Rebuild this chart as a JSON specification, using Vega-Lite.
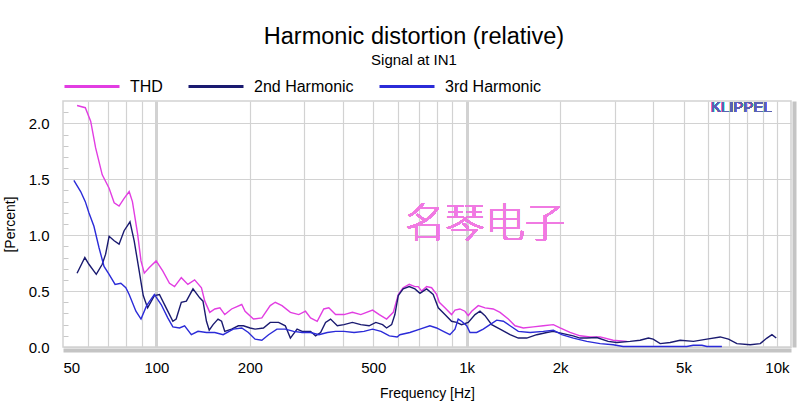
{
"$schema": "https://vega.github.io/schema/vega-lite/v6.json",
"width": 728, "height": 246,
"autosize": {"type": "none"},
"padding": {"left": 63, "top": 101, "right": 9, "bottom": 56},
"background": "white",
"config": {"font": "Liberation Sans", "view": {"stroke": "#d2d2d2", "strokeWidth": 1.5}},
"title": {"text": "Harmonic distortion (relative)", "subtitle": "Signal at IN1", "fontSize": 23.5, "fontWeight": "normal", "subtitleFontSize": 15, "color": "#000", "subtitleColor": "#000", "anchor": "middle", "frame": "group", "dx": -13, "offset": -10, "subtitlePadding": 4},
"data": {"values": [
{"s":"THD","f":55.5,"v":2.16},{"s":"THD","f":59,"v":2.14},{"s":"THD","f":61.4,"v":2.02},{"s":"THD","f":63.7,"v":1.78},{"s":"THD","f":66.9,"v":1.54},{"s":"THD","f":70.4,"v":1.42},{"s":"THD","f":73.1,"v":1.29},{"s":"THD","f":75.8,"v":1.26},{"s":"THD","f":78.7,"v":1.33},{"s":"THD","f":81.7,"v":1.39},{"s":"THD","f":83.7,"v":1.30},{"s":"THD","f":87,"v":1.01},{"s":"THD","f":89.2,"v":0.77},{"s":"THD","f":91.4,"v":0.66},{"s":"THD","f":94.9,"v":0.71},{"s":"THD","f":99.8,"v":0.77},{"s":"THD","f":104.8,"v":0.68},{"s":"THD","f":110.2,"v":0.57},{"s":"THD","f":114.4,"v":0.54},{"s":"THD","f":120.3,"v":0.62},{"s":"THD","f":126.3,"v":0.56},{"s":"THD","f":132.8,"v":0.60},{"s":"THD","f":139.7,"v":0.53},{"s":"THD","f":143.2,"v":0.41},{"s":"THD","f":148.6,"v":0.31},{"s":"THD","f":154.3,"v":0.34},{"s":"THD","f":160.2,"v":0.35},{"s":"THD","f":166.1,"v":0.29},{"s":"THD","f":174.7,"v":0.34},{"s":"THD","f":188.4,"v":0.38},{"s":"THD","f":193.1,"v":0.32},{"s":"THD","f":205.5,"v":0.25},{"s":"THD","f":218.7,"v":0.26},{"s":"THD","f":232.7,"v":0.37},{"s":"THD","f":241.6,"v":0.40},{"s":"THD","f":254,"v":0.37},{"s":"THD","f":270.3,"v":0.31},{"s":"THD","f":287.7,"v":0.29},{"s":"THD","f":302.3,"v":0.32},{"s":"THD","f":313.9,"v":0.26},{"s":"THD","f":329.8,"v":0.23},{"s":"THD","f":346.3,"v":0.34},{"s":"THD","f":359.5,"v":0.35},{"s":"THD","f":378,"v":0.29},{"s":"THD","f":402.3,"v":0.29},{"s":"THD","f":428.3,"v":0.31},{"s":"THD","f":455.7,"v":0.29},{"s":"THD","f":497.5,"v":0.33},{"s":"THD","f":522.8,"v":0.29},{"s":"THD","f":552,"v":0.25},{"s":"THD","f":580,"v":0.31},{"s":"THD","f":602,"v":0.47},{"s":"THD","f":624,"v":0.53},{"s":"THD","f":653,"v":0.56},{"s":"THD","f":681,"v":0.54},{"s":"THD","f":698,"v":0.54},{"s":"THD","f":716,"v":0.50},{"s":"THD","f":743,"v":0.54},{"s":"THD","f":771,"v":0.53},{"s":"THD","f":800,"v":0.47},{"s":"THD","f":816,"v":0.40},{"s":"THD","f":851,"v":0.35},{"s":"THD","f":894,"v":0.29},{"s":"THD","f":917,"v":0.33},{"s":"THD","f":951,"v":0.34},{"s":"THD","f":987,"v":0.32},{"s":"THD","f":1012,"v":0.28},{"s":"THD","f":1038,"v":0.32},{"s":"THD","f":1090,"v":0.37},{"s":"THD","f":1146,"v":0.35},{"s":"THD","f":1218,"v":0.34},{"s":"THD","f":1281,"v":0.31},{"s":"THD","f":1362,"v":0.25},{"s":"THD","f":1432,"v":0.19},{"s":"THD","f":1523,"v":0.17},{"s":"THD","f":1640,"v":0.18},{"s":"THD","f":1766,"v":0.19},{"s":"THD","f":1903,"v":0.20},{"s":"THD","f":2000,"v":0.17},{"s":"THD","f":2154,"v":0.13},{"s":"THD","f":2320,"v":0.10},{"s":"THD","f":2499,"v":0.09},{"s":"THD","f":2692,"v":0.09},{"s":"THD","f":2965,"v":0.06},{"s":"THD","f":3282,"v":0.05},
{"s":"2nd Harmonic","f":55.5,"v":0.66},{"s":"2nd Harmonic","f":58.8,"v":0.80},{"s":"2nd Harmonic","f":60.6,"v":0.74},{"s":"2nd Harmonic","f":64,"v":0.65},{"s":"2nd Harmonic","f":66.9,"v":0.74},{"s":"2nd Harmonic","f":68.6,"v":0.83},{"s":"2nd Harmonic","f":70.4,"v":0.99},{"s":"2nd Harmonic","f":73.1,"v":0.95},{"s":"2nd Harmonic","f":75.8,"v":0.92},{"s":"2nd Harmonic","f":78.7,"v":1.04},{"s":"2nd Harmonic","f":82.2,"v":1.12},{"s":"2nd Harmonic","f":84.8,"v":0.95},{"s":"2nd Harmonic","f":88,"v":0.68},{"s":"2nd Harmonic","f":89.8,"v":0.53},{"s":"2nd Harmonic","f":90.7,"v":0.46},{"s":"2nd Harmonic","f":93.7,"v":0.35},{"s":"2nd Harmonic","f":98.5,"v":0.46},{"s":"2nd Harmonic","f":102.3,"v":0.47},{"s":"2nd Harmonic","f":107.5,"v":0.35},{"s":"2nd Harmonic","f":113,"v":0.23},{"s":"2nd Harmonic","f":115.8,"v":0.25},{"s":"2nd Harmonic","f":120.3,"v":0.40},{"s":"2nd Harmonic","f":124.9,"v":0.41},{"s":"2nd Harmonic","f":131.2,"v":0.52},{"s":"2nd Harmonic","f":137.9,"v":0.44},{"s":"2nd Harmonic","f":141.3,"v":0.41},{"s":"2nd Harmonic","f":145,"v":0.23},{"s":"2nd Harmonic","f":148,"v":0.15},{"s":"2nd Harmonic","f":152.3,"v":0.20},{"s":"2nd Harmonic","f":158,"v":0.25},{"s":"2nd Harmonic","f":162.2,"v":0.23},{"s":"2nd Harmonic","f":166.1,"v":0.14},{"s":"2nd Harmonic","f":174.7,"v":0.16},{"s":"2nd Harmonic","f":183.7,"v":0.19},{"s":"2nd Harmonic","f":190.7,"v":0.19},{"s":"2nd Harmonic","f":200.4,"v":0.17},{"s":"2nd Harmonic","f":208,"v":0.16},{"s":"2nd Harmonic","f":221.3,"v":0.17},{"s":"2nd Harmonic","f":232.7,"v":0.22},{"s":"2nd Harmonic","f":247.6,"v":0.22},{"s":"2nd Harmonic","f":260.3,"v":0.19},{"s":"2nd Harmonic","f":270.3,"v":0.08},{"s":"2nd Harmonic","f":284.1,"v":0.16},{"s":"2nd Harmonic","f":294.9,"v":0.14},{"s":"2nd Harmonic","f":313.9,"v":0.14},{"s":"2nd Harmonic","f":325.8,"v":0.10},{"s":"2nd Harmonic","f":338.2,"v":0.13},{"s":"2nd Harmonic","f":350.9,"v":0.22},{"s":"2nd Harmonic","f":364.2,"v":0.25},{"s":"2nd Harmonic","f":382.9,"v":0.19},{"s":"2nd Harmonic","f":402.3,"v":0.20},{"s":"2nd Harmonic","f":428.3,"v":0.22},{"s":"2nd Harmonic","f":455.7,"v":0.20},{"s":"2nd Harmonic","f":484.8,"v":0.19},{"s":"2nd Harmonic","f":509.5,"v":0.22},{"s":"2nd Harmonic","f":535.8,"v":0.20},{"s":"2nd Harmonic","f":552,"v":0.17},{"s":"2nd Harmonic","f":573,"v":0.20},{"s":"2nd Harmonic","f":587,"v":0.29},{"s":"2nd Harmonic","f":602,"v":0.46},{"s":"2nd Harmonic","f":624,"v":0.52},{"s":"2nd Harmonic","f":653,"v":0.54},{"s":"2nd Harmonic","f":681,"v":0.52},{"s":"2nd Harmonic","f":707,"v":0.48},{"s":"2nd Harmonic","f":743,"v":0.52},{"s":"2nd Harmonic","f":780,"v":0.47},{"s":"2nd Harmonic","f":810,"v":0.35},{"s":"2nd Harmonic","f":851,"v":0.29},{"s":"2nd Harmonic","f":894,"v":0.23},{"s":"2nd Harmonic","f":928,"v":0.22},{"s":"2nd Harmonic","f":963,"v":0.20},{"s":"2nd Harmonic","f":1012,"v":0.22},{"s":"2nd Harmonic","f":1064,"v":0.29},{"s":"2nd Harmonic","f":1104,"v":0.32},{"s":"2nd Harmonic","f":1146,"v":0.28},{"s":"2nd Harmonic","f":1204,"v":0.20},{"s":"2nd Harmonic","f":1281,"v":0.16},{"s":"2nd Harmonic","f":1380,"v":0.11},{"s":"2nd Harmonic","f":1467,"v":0.08},{"s":"2nd Harmonic","f":1562,"v":0.08},{"s":"2nd Harmonic","f":1682,"v":0.11},{"s":"2nd Harmonic","f":1812,"v":0.13},{"s":"2nd Harmonic","f":1899,"v":0.14},{"s":"2nd Harmonic","f":2045,"v":0.12},{"s":"2nd Harmonic","f":2203,"v":0.10},{"s":"2nd Harmonic","f":2320,"v":0.08},{"s":"2nd Harmonic","f":2438,"v":0.08},{"s":"2nd Harmonic","f":2627,"v":0.085},{"s":"2nd Harmonic","f":2857,"v":0.05},{"s":"2nd Harmonic","f":3047,"v":0.04},{"s":"2nd Harmonic","f":3364,"v":0.05},{"s":"2nd Harmonic","f":3622,"v":0.06},{"s":"2nd Harmonic","f":3853,"v":0.08},{"s":"2nd Harmonic","f":3990,"v":0.07},{"s":"2nd Harmonic","f":4204,"v":0.03},{"s":"2nd Harmonic","f":4527,"v":0.04},{"s":"2nd Harmonic","f":4876,"v":0.06},{"s":"2nd Harmonic","f":5383,"v":0.05},{"s":"2nd Harmonic","f":5946,"v":0.07},{"s":"2nd Harmonic","f":6563,"v":0.09},{"s":"2nd Harmonic","f":6981,"v":0.07},{"s":"2nd Harmonic","f":7430,"v":0.03},{"s":"2nd Harmonic","f":8201,"v":0.02},{"s":"2nd Harmonic","f":8834,"v":0.03},{"s":"2nd Harmonic","f":9284,"v":0.08},{"s":"2nd Harmonic","f":9636,"v":0.11},{"s":"2nd Harmonic","f":9948,"v":0.08},
{"s":"3rd Harmonic","f":54.2,"v":1.49},{"s":"3rd Harmonic","f":57,"v":1.39},{"s":"3rd Harmonic","f":59,"v":1.30},{"s":"3rd Harmonic","f":60.6,"v":1.20},{"s":"3rd Harmonic","f":62.9,"v":1.08},{"s":"3rd Harmonic","f":65.3,"v":0.89},{"s":"3rd Harmonic","f":67.8,"v":0.72},{"s":"3rd Harmonic","f":70.4,"v":0.65},{"s":"3rd Harmonic","f":73.6,"v":0.56},{"s":"3rd Harmonic","f":76.8,"v":0.57},{"s":"3rd Harmonic","f":79.7,"v":0.53},{"s":"3rd Harmonic","f":81.7,"v":0.47},{"s":"3rd Harmonic","f":85.9,"v":0.32},{"s":"3rd Harmonic","f":89.2,"v":0.25},{"s":"3rd Harmonic","f":93,"v":0.37},{"s":"3rd Harmonic","f":98.5,"v":0.47},{"s":"3rd Harmonic","f":103.6,"v":0.38},{"s":"3rd Harmonic","f":108.8,"v":0.26},{"s":"3rd Harmonic","f":113,"v":0.18},{"s":"3rd Harmonic","f":118.7,"v":0.17},{"s":"3rd Harmonic","f":123.3,"v":0.19},{"s":"3rd Harmonic","f":129.6,"v":0.11},{"s":"3rd Harmonic","f":136.2,"v":0.14},{"s":"3rd Harmonic","f":145,"v":0.13},{"s":"3rd Harmonic","f":154.3,"v":0.13},{"s":"3rd Harmonic","f":164.1,"v":0.11},{"s":"3rd Harmonic","f":176.9,"v":0.16},{"s":"3rd Harmonic","f":188.4,"v":0.17},{"s":"3rd Harmonic","f":197.9,"v":0.13},{"s":"3rd Harmonic","f":208,"v":0.07},{"s":"3rd Harmonic","f":218.7,"v":0.06},{"s":"3rd Harmonic","f":229.9,"v":0.11},{"s":"3rd Harmonic","f":244.6,"v":0.16},{"s":"3rd Harmonic","f":260.3,"v":0.16},{"s":"3rd Harmonic","f":277,"v":0.14},{"s":"3rd Harmonic","f":294.9,"v":0.13},{"s":"3rd Harmonic","f":313.9,"v":0.13},{"s":"3rd Harmonic","f":334.1,"v":0.11},{"s":"3rd Harmonic","f":355.5,"v":0.13},{"s":"3rd Harmonic","f":378,"v":0.14},{"s":"3rd Harmonic","f":402.3,"v":0.14},{"s":"3rd Harmonic","f":433.5,"v":0.13},{"s":"3rd Harmonic","f":466.7,"v":0.14},{"s":"3rd Harmonic","f":497.5,"v":0.16},{"s":"3rd Harmonic","f":529.5,"v":0.14},{"s":"3rd Harmonic","f":563.5,"v":0.10},{"s":"3rd Harmonic","f":597,"v":0.09},{"s":"3rd Harmonic","f":609,"v":0.11},{"s":"3rd Harmonic","f":656,"v":0.13},{"s":"3rd Harmonic","f":707,"v":0.16},{"s":"3rd Harmonic","f":761,"v":0.19},{"s":"3rd Harmonic","f":800,"v":0.17},{"s":"3rd Harmonic","f":841,"v":0.14},{"s":"3rd Harmonic","f":883,"v":0.11},{"s":"3rd Harmonic","f":917,"v":0.16},{"s":"3rd Harmonic","f":939,"v":0.25},{"s":"3rd Harmonic","f":963,"v":0.23},{"s":"3rd Harmonic","f":1000,"v":0.19},{"s":"3rd Harmonic","f":1025,"v":0.13},{"s":"3rd Harmonic","f":1077,"v":0.13},{"s":"3rd Harmonic","f":1131,"v":0.16},{"s":"3rd Harmonic","f":1189,"v":0.20},{"s":"3rd Harmonic","f":1250,"v":0.24},{"s":"3rd Harmonic","f":1313,"v":0.23},{"s":"3rd Harmonic","f":1380,"v":0.19},{"s":"3rd Harmonic","f":1467,"v":0.14},{"s":"3rd Harmonic","f":1601,"v":0.13},{"s":"3rd Harmonic","f":1766,"v":0.14},{"s":"3rd Harmonic","f":1903,"v":0.15},{"s":"3rd Harmonic","f":2025,"v":0.11},{"s":"3rd Harmonic","f":2208,"v":0.08},{"s":"3rd Harmonic","f":2438,"v":0.05},{"s":"3rd Harmonic","f":2692,"v":0.03},{"s":"3rd Harmonic","f":2965,"v":0.02},{"s":"3rd Harmonic","f":3193,"v":0.005},{"s":"3rd Harmonic","f":5125,"v":0.005},{"s":"3rd Harmonic","f":5370,"v":0.015},{"s":"3rd Harmonic","f":5731,"v":0.015},{"s":"3rd Harmonic","f":5946,"v":0.005},{"s":"3rd Harmonic","f":6646,"v":0.005}
]},
"layer": [
{"mark": {"type": "point", "opacity": 0},
 "encoding": {
  "x": {"field": "f", "type": "quantitative", "scale": {"type": "log", "domain": [50, 11100], "nice": false},
        "axis": {"orient": "bottom", "values": [60,70,80,90,100,200,300,400,500,600,700,800,900,1000,2000,3000,4000,5000,6000,7000,8000,9000,10000], "grid": true, "gridColor": "#d2d2d2", "gridWidth": {"condition": {"test": "datum.value === 100 || datum.value === 1000", "value": 3}, "value": 1.2}, "labels": false, "ticks": false, "domain": false, "title": null}},
  "y": {"field": "v", "type": "quantitative", "scale": {"domain": [0, 2.2], "nice": false},
        "axis": {"orient": "left", "values": [0.1,0.2,0.3,0.4,0.6,0.7,0.8,0.9,1.1,1.2,1.3,1.4,1.6,1.7,1.8,1.9,2.1], "grid": false, "labels": false, "domain": false, "ticks": true, "tickSize": -5, "tickColor": "#c8c8c8", "title": null}}
 }},
{"mark": {"type": "point", "opacity": 0},
 "encoding": {
  "x": {"field": "f", "type": "quantitative", "axis": null},
  "y": {"field": "v", "type": "quantitative",
        "axis": {"orient": "right", "grid": false, "labels": false, "ticks": false, "domain": true, "domainColor": "#c4c4c4", "domainWidth": 4, "offset": 3, "title": null}}
 }},
{"mark": {"type": "line", "strokeWidth": 1.4},
 "encoding": {
  "x": {"field": "f", "type": "quantitative",
        "axis": {"orient": "bottom", "values": [50,100,200,500,1000,2000,5000,10000], "labelExpr": "datum.value >= 1000 ? (datum.value/1000) + 'k' : datum.value", "grid": false, "ticks": false, "domainColor": "#c4c4c4", "domainWidth": 4, "offset": 3, "labelPadding": 10, "labelFontSize": 15, "labelColor": "#000", "title": "Frequency [Hz]", "titleFontSize": 14, "titleFontWeight": "normal", "titleColor": "#000", "titlePadding": 11}},
  "y": {"field": "v", "type": "quantitative",
        "axis": {"orient": "left", "values": [0, 0.5, 1, 1.5, 2], "format": ".1f", "grid": true, "gridColor": "#d2d2d2", "gridWidth": 1.2, "ticks": false, "domain": false, "labelPadding": 14, "labelFontSize": 15, "labelColor": "#000", "title": "[Percent]", "titleFontSize": 14, "titleFontWeight": "normal", "titleColor": "#000", "titlePadding": 11}},
  "color": {"field": "s", "type": "nominal",
        "scale": {"domain": ["THD", "2nd Harmonic", "3rd Harmonic"], "range": ["#e23de2", "#1a1a70", "#2b2bd8"]},
        "legend": {"orient": "none", "legendX": 0, "legendY": -43.5, "direction": "horizontal", "title": null, "padding": 0, "symbolType": "M-1,0L1,0", "symbolSize": 3025, "symbolStrokeWidth": 3, "labelFontSize": 16, "labelOffset": 9, "columnPadding": 19, "labelColor": "#000"}}
 }},
{"mark": {"type": "text", "text": "KLIPPEL", "fontSize": 15, "fontWeight": "normal", "color": "#5a62b0", "align": "center", "baseline": "alphabetic"},
 "encoding": {
  "x": {"datum": 7672, "type": "quantitative", "axis": null},
  "y": {"datum": 2.1, "type": "quantitative", "axis": null}
 }},
{"mark": {"type": "text", "text": "名琴电子", "font": "Noto Sans CJK SC", "fontSize": 40, "fontWeight": 300, "color": "#f07ae2", "opacity": 0.9, "align": "center", "baseline": "middle"},
 "encoding": {
  "x": {"datum": 1146, "type": "quantitative", "axis": null},
  "y": {"datum": 1.09, "type": "quantitative", "axis": null}
 }}
],
"resolve": {"axis": {"x": "independent", "y": "independent"}}
}
